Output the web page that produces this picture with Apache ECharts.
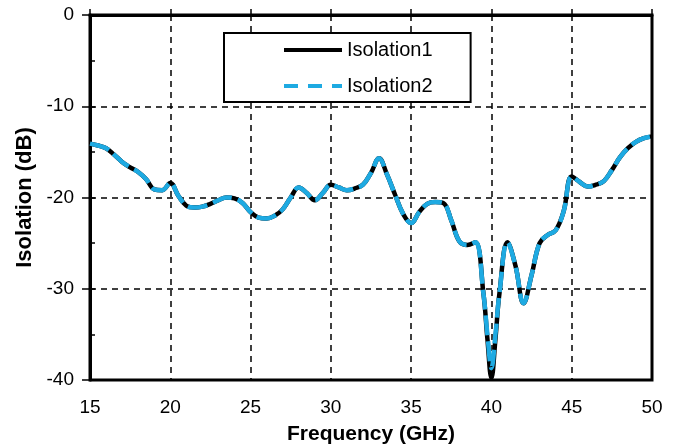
<!DOCTYPE html>
<html><head><meta charset="utf-8">
<script src="https://cdn.jsdelivr.net/npm/echarts@6/dist/echarts.min.js"></script>
<style>html,body{margin:0;padding:0;background:#fff}#c{width:681px;height:448px}</style>
</head><body><div id="c"></div>
<script>
const freq = [15,15.5,16,16.5,17,17.5,18,18.5,19,19.5,20,20.5,21,21.5,22,22.5,23,23.5,24,24.5,25,25.5,26,26.5,27,27.5,28,28.5,29,29.5,30,30.5,31,31.5,32,32.5,33,33.5,34,34.5,35,35.5,36,36.5,37,37.5,38,38.5,39,39.5,39.75,40,40.25,40.5,41,41.5,42,42.5,43,43.5,44,44.5,45,45.5,46,46.5,47,47.5,48,48.5,49,49.5,50];
const isolation1 = [-14.1,-14.3,-14.6,-15.3,-16.1,-16.7,-17.2,-18.0,-19.1,-19.2,-18.4,-19.8,-20.9,-21.1,-21.0,-20.7,-20.3,-20.0,-20.1,-20.6,-21.6,-22.2,-22.3,-22.0,-21.3,-20.0,-18.9,-19.5,-20.3,-19.5,-18.6,-18.9,-19.2,-19.0,-18.6,-17.3,-15.7,-17.5,-19.7,-21.8,-22.8,-21.6,-20.7,-20.5,-20.6,-22.5,-24.8,-25.2,-24.9,-30.5,-35.5,-39.8,-35.5,-30.5,-24.9,-27.5,-31.6,-28.5,-25.0,-24.1,-23.6,-21.5,-17.7,-18.3,-18.8,-18.6,-18.2,-17.0,-15.6,-14.6,-13.9,-13.5,-13.3];
const isolation2 = [-14.1,-14.3,-14.6,-15.3,-16.1,-16.7,-17.2,-18.0,-19.1,-19.2,-18.4,-19.8,-20.9,-21.1,-21.0,-20.7,-20.3,-20.0,-20.1,-20.6,-21.6,-22.2,-22.3,-22.0,-21.3,-20.0,-18.9,-19.5,-20.3,-19.5,-18.6,-18.9,-19.2,-19.0,-18.6,-17.3,-15.7,-17.5,-19.7,-21.8,-22.8,-21.6,-20.7,-20.5,-20.6,-22.5,-24.8,-25.2,-24.9,-30.5,-35.0,-38.7,-35.0,-30.5,-24.9,-27.5,-31.6,-28.5,-25.0,-24.1,-23.6,-21.5,-17.7,-18.3,-18.8,-18.6,-18.2,-17.0,-15.6,-14.6,-13.9,-13.5,-13.3];
const seriesNames = ['Isolation1','Isolation2'];

const chart = echarts.init(document.getElementById('c'), null, {renderer:'canvas'});
const font = 'Arial, "Liberation Sans", sans-serif';
const cyan = '#1eaae2';
const dashGrid = {show:true, lineStyle:{color:'#000', width:1.5, type:[6,5]}};
chart.setOption({
  animation:false,
  backgroundColor:'#fff',
  grid:{left:90, right:29, top:15, bottom:68, show:true, borderColor:'#000', borderWidth:3, backgroundColor:'transparent', containLabel:false, outerBoundsMode:'none'},
  legend:{
    left:224, top:33, orient:'vertical',
    data:[
      {name:seriesNames[0], lineStyle:{color:'#000', width:4, type:'solid'}},
      {name:seriesNames[1], lineStyle:{color:cyan, width:4, type:[14,10]}}
    ],
    itemWidth:58, itemHeight:20, itemGap:16,
    padding:[7,38,6,58],
    itemStyle:{opacity:0},
    borderColor:'#000', borderWidth:2, backgroundColor:'#fff',
    textStyle:{fontFamily:font, fontSize:20, color:'#000'}
  },
  xAxis:{
    type:'value', min:15, max:50, interval:5,
    name:'Frequency (GHz)', nameLocation:'middle', nameGap:44,
    nameTextStyle:{fontFamily:font, fontSize:21, fontWeight:'bold', color:'#000'},
    axisLine:{show:true, lineStyle:{color:'#000', width:3}},
    axisTick:{show:true, inside:true, length:6, lineStyle:{color:'#000', width:1.5}},
    axisLabel:{fontFamily:font, fontSize:19, color:'#000', margin:18},
    splitLine:dashGrid
  },
  yAxis:[{
    type:'value', min:-40, max:0, interval:10,
    name:'Isolation (dB)', nameLocation:'middle', nameGap:54,
    nameTextStyle:{fontFamily:font, fontSize:22, fontWeight:'bold', color:'#000'},
    axisLine:{show:true, lineStyle:{color:'#000', width:3}},
    axisTick:{show:true, inside:false, length:8, lineStyle:{color:'#000', width:1.5}},
    axisLabel:{fontFamily:font, fontSize:19, color:'#000', margin:16},
    splitLine:dashGrid
  },{
    type:'value', min:-40, max:0, interval:5, position:'left',
    axisLine:{show:false}, axisLabel:{show:false}, splitLine:{show:false},
    axisTick:{show:true, inside:true, length:5, lineStyle:{color:'#000', width:1.5}}
  }],
  series:[
    {name:seriesNames[0], type:'line', smooth:0.4, showSymbol:false, symbol:'none',
     data:freq.map((f,i)=>[f,isolation1[i]]),
     lineStyle:{color:'#000', width:4.5}, itemStyle:{color:'#000'}, z:2},
    {name:seriesNames[1], type:'line', smooth:0.4, showSymbol:false, symbol:'none',
     data:freq.map((f,i)=>[f,isolation2[i]]),
     lineStyle:{color:cyan, width:4.5, type:[20,6]}, itemStyle:{color:cyan}, z:3}
  ]
});
</script></body></html>
